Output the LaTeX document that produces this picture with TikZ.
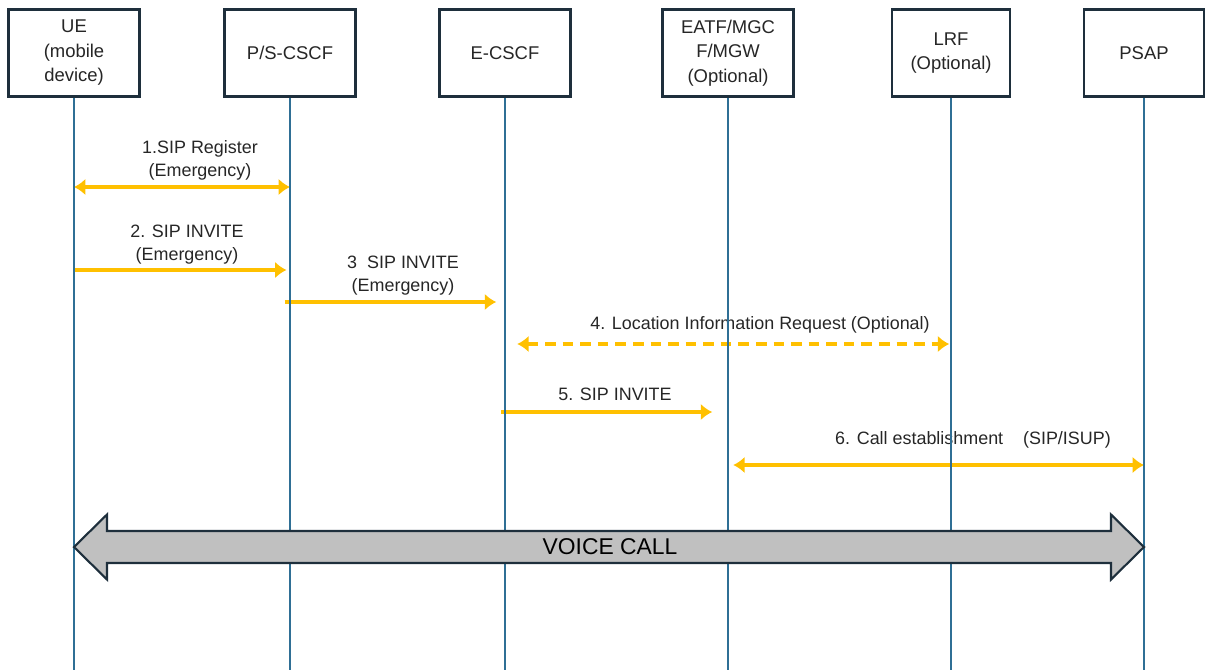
\documentclass[tikz,border=0pt]{standalone}
\usepackage{fontspec}
\setmainfont{Liberation Sans}
\usetikzlibrary{calc,arrows.meta}
\definecolor{boxline}{HTML}{1E2F3C}
\definecolor{lifeblue}{HTML}{2F6F95}
\definecolor{msgyellow}{HTML}{FFC000}
\definecolor{txt}{HTML}{262626}
\definecolor{callgray}{HTML}{C0C0C0}

\begin{document}
\begin{tikzpicture}[x=0.02cm,y=-0.02cm,>={Latex[length=6.5pt,width=9.5pt]},
    box/.style={draw=boxline,line width=1.6pt,fill=white,minimum width=2.62cm,minimum height=1.74cm,
      anchor=north,align=center,text=txt,font=\fontsize{10.5}{14}\selectfont},
    life/.style={draw=lifeblue,line width=1.3pt},
    msg/.style={draw=msgyellow,line width=1.8pt},
    lbl/.style={align=center,text=txt,inner sep=0pt,font=\fontsize{10.2}{13}\selectfont}]
  \useasboundingbox (0,0) rectangle (1206,670);
  \node[box](ue)at(74,8){UE\\(mobile\\device)};
  \node[box](pcscf)at(290,8){P/S-CSCF};
  \node[box](ecscf)at(505,8){E-CSCF};
  \node[box](eatf)at(728,8){EATF/MGC\\F/MGW\\(Optional)};
  \node[box,minimum width=2.36cm](lrf)at(951,8){LRF\\(Optional)};
  \node[box,minimum width=2.4cm](psap)at(1144,8){PSAP};
  \coordinate (bot) at (0,670);

  \node[lbl](l1)at(200,160){1.SIP Register\\(Emergency)};
  \draw[msg,<->] (ue |- 0,187) -- (pcscf |- 0,187);
  \node[lbl](l2)at(187,245){2. SIP INVITE\\(Emergency)};
  \draw[msg,->] (ue |- 0,270) -- ([xshift=-2]pcscf |- 0,270);
  \node[lbl](l3)at(403,276){3\ \ SIP INVITE\\(Emergency)};
  \draw[msg,->] ([xshift=-3]pcscf |- 0,302) -- ([xshift=-5]ecscf |- 0,302);
  \node[lbl](l4)at(760,325){4. Location Information Request (Optional)};
  \draw[msg,<->,dash pattern=on 6pt off 4pt] ([xshift=7]ecscf |- 0,344) -- ([xshift=-1]lrf |- 0,344);
  \node[lbl](l5)at(615,394){5. SIP INVITE};
  \draw[msg,->] ([xshift=-2]ecscf |- 0,412) -- ([xshift=-9]eatf |- 0,412);
  \node[lbl](l6)at(973,440){6. Call establishment\ \ \ \ (SIP/ISUP)};
  \draw[msg,<->] ([xshift=3]eatf |- 0,465) -- (psap |- 0,465);

  \foreach \n in {ue,pcscf,ecscf,eatf,lrf,psap}
    \draw[life] (\n.south) -- (\n.south |- bot);

  \draw[draw=boxline,fill=callgray,line width=1.2pt,line join=miter]
    (ue |- 0,547) -- ++(33,-32.5) -- ++(0,16.5) -- ($(psap |- 0,531)+(-33,0)$) -- ++(0,-16.5)
    -- (psap |- 0,547) -- ++(-33,32.5) -- ++(0,-16.5) -- ($(ue |- 0,563)+(33,0)$) -- ++(0,16.5) -- cycle;
  \node[text=black,font=\fontsize{13}{15}\selectfont](voice)at(610,547){VOICE CALL};
\end{tikzpicture}
\end{document}
